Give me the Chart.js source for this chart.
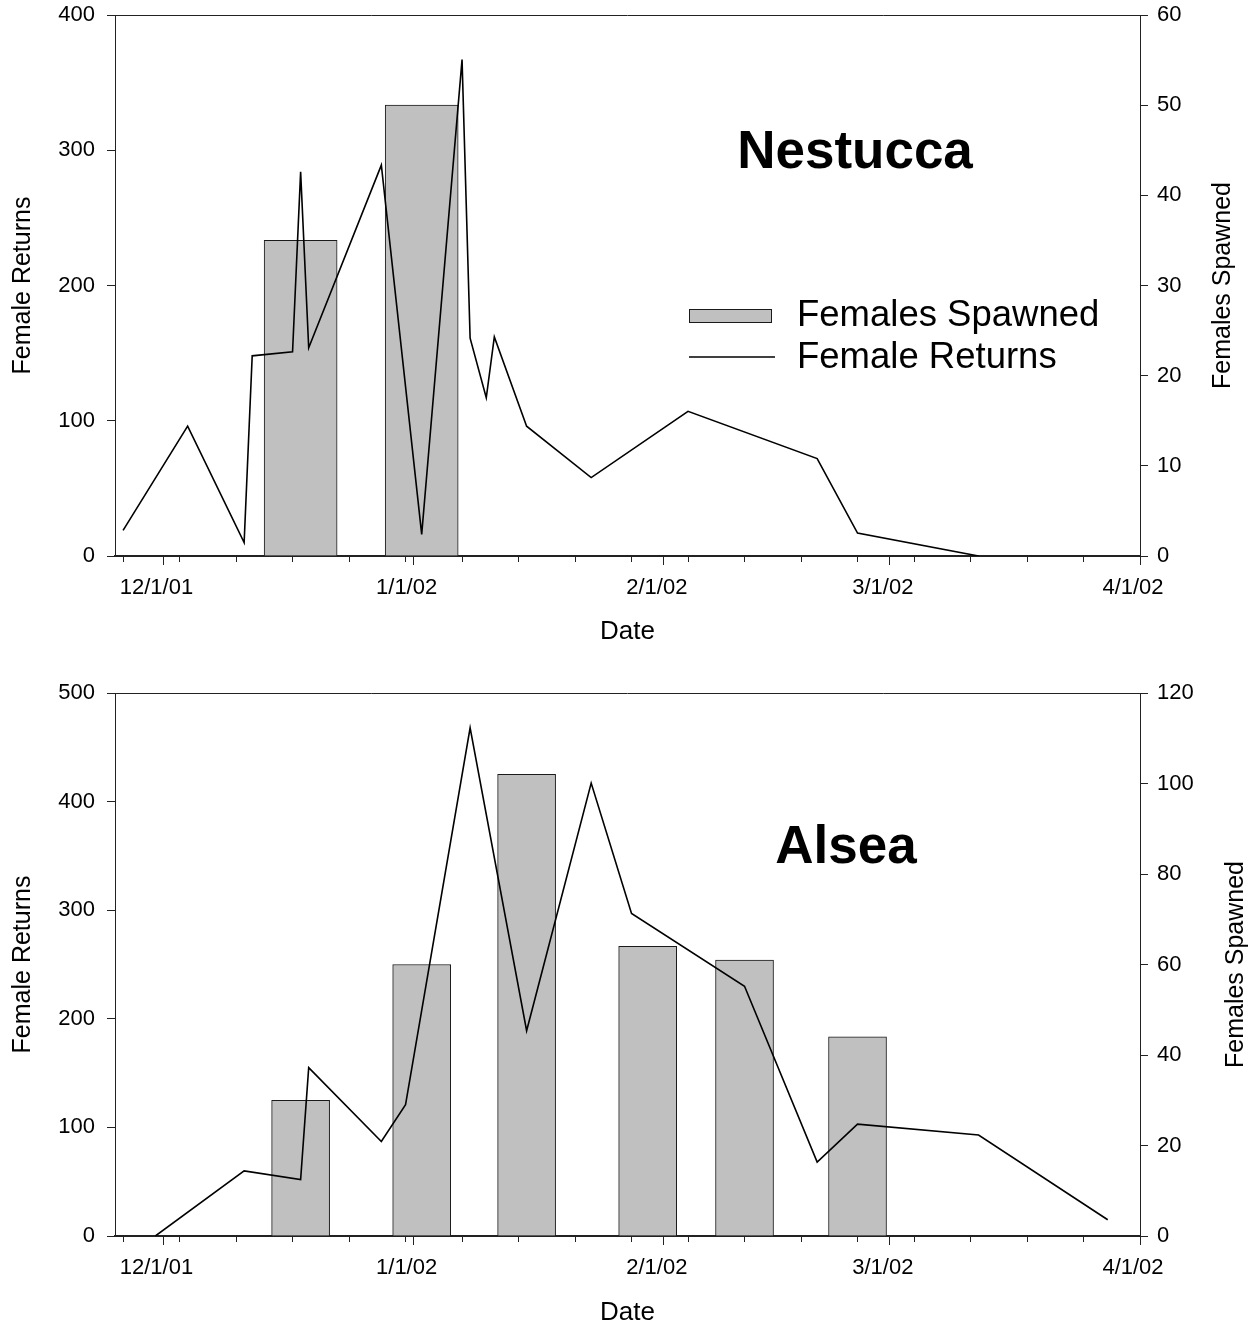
<!DOCTYPE html>
<html lang="en">
<head>
  <meta charset="UTF-8" />
  <title>Female Returns and Females Spawned - Nestucca and Alsea</title>
  <script src="https://cdn.jsdelivr.net/npm/chart.js"></script>
  <style>
    body { margin: 0; background: #fff; }
    canvas { display: block; }
  </style>
</head>
<body>
  <canvas id="nestuccaChart" width="1253" height="663"></canvas>
  <canvas id="alseaChart" width="1253" height="663"></canvas>

  <script>
    // x values are plotted as days counted from 12/1/01
    const startDate = '2001-12-01';
    const axisMinDate = '2001-11-25';
    const axisMaxDate = '2002-04-01';

    const monthTickDates = ['2001-12-01', '2002-01-01', '2002-02-01', '2002-03-01', '2002-04-01'];
    const monthTickLabels = ['12/1/01', '1/1/02', '2/1/02', '3/1/02', '4/1/02'];
    const weekTickDates = ['2001-11-26', '2001-12-03', '2001-12-10', '2001-12-17', '2001-12-24',
      '2001-12-31', '2002-01-07', '2002-01-14', '2002-01-21', '2002-01-28', '2002-02-04',
      '2002-02-11', '2002-02-18', '2002-02-25', '2002-03-04', '2002-03-11', '2002-03-18', '2002-03-25'];

    // Nestucca
    const nestuccaReturnDates = ['2001-11-26', '2001-12-04', '2001-12-11', '2001-12-12', '2001-12-17',
      '2001-12-18', '2001-12-19', '2001-12-28', '2002-01-02', '2002-01-07', '2002-01-08',
      '2002-01-10', '2002-01-11', '2002-01-15', '2002-01-23', '2002-02-04', '2002-02-20',
      '2002-02-25', '2002-03-12'];
    const nestuccaReturns = [19, 96, 10, 148, 151, 284, 154, 289, 16, 367, 161, 117, 162, 96, 58, 107, 72, 17, 0];
    const nestuccaSpawnDates = ['2001-12-18', '2002-01-02'];
    const nestuccaSpawned = [35, 50];
    const nestuccaLeftTicks = [0, 100, 200, 300, 400];
    const nestuccaRightTicks = [0, 10, 20, 30, 40, 50, 60];

    // Alsea
    const alseaReturnDates = ['2001-11-30', '2001-12-11', '2001-12-18', '2001-12-19', '2001-12-28',
      '2001-12-31', '2002-01-08', '2002-01-15', '2002-01-23', '2002-01-28', '2002-02-11',
      '2002-02-20', '2002-02-25', '2002-03-12', '2002-03-28'];
    const alseaReturns = [0, 60, 52, 155, 87, 121, 468, 189, 417, 297, 230, 68, 103, 93, 15];
    const alseaSpawnDates = ['2001-12-18', '2002-01-02', '2002-01-15', '2002-01-30', '2002-02-11', '2002-02-25'];
    const alseaSpawned = [30, 60, 102, 64, 61, 44];
    const alseaLeftTicks = [0, 100, 200, 300, 400, 500];
    const alseaRightTicks = [0, 20, 40, 60, 80, 100, 120];

    const FONT = "'Liberation Sans', Arial, Helvetica, sans-serif";
    const AXIS = '#222';
    Chart.defaults.font.family = FONT;
    Chart.defaults.color = '#000';

    function dayNum(s) {
      return (Date.parse(s) - Date.parse(startDate)) / 86400000;
    }

    function points(dates, values) {
      return values.map((v, i) => ({ x: dayNum(dates[i]), y: v }));
    }

    // y axes: fixed width, no extra room above/below for the end labels
    function fixY(width) {
      return s => {
        s.width = width;
        s.paddingTop = 0;
        s.paddingBottom = 0;
      };
    }

    // frame top, right axis title (reads upward), river name and legend
    const decorPlugin = {
      id: 'decor',
      afterDraw(chart, args, opts) {
        const { ctx, chartArea: a } = chart;
        ctx.save();
        ctx.strokeStyle = AXIS;
        ctx.lineWidth = 1;
        ctx.beginPath();
        ctx.moveTo(a.left, a.top + 0.5);
        ctx.lineTo(a.right, a.top + 0.5);
        ctx.stroke();

        ctx.fillStyle = '#000';
        ctx.textAlign = 'center';
        ctx.textBaseline = 'middle';
        ctx.font = 'bold 53px ' + FONT;
        ctx.fillText(opts.river, opts.riverX, opts.riverY);

        if (opts.legend) {
          const bars = chart.data.datasets[1];
          const line = chart.data.datasets[0];
          ctx.fillStyle = bars.backgroundColor;
          ctx.fillRect(689, 309, 83, 14);
          ctx.strokeStyle = bars.borderColor;
          ctx.strokeRect(689.5, 309.5, 82, 13);
          ctx.strokeStyle = line.borderColor;
          ctx.lineWidth = line.borderWidth;
          ctx.beginPath();
          ctx.moveTo(689, 357);
          ctx.lineTo(775, 357);
          ctx.stroke();
          ctx.fillStyle = '#000';
          ctx.textAlign = 'left';
          ctx.font = '36.5px ' + FONT;
          ctx.fillText(bars.label, 797, 316);
          ctx.fillText(line.label, 797, 358);
        }

        ctx.font = '25px ' + FONT;
        ctx.textAlign = 'center';
        ctx.translate(a.right + opts.rightTitleGap, (a.top + a.bottom) / 2);
        ctx.rotate(-Math.PI / 2);
        ctx.fillText(opts.rightTitle, 0, 0);
        ctx.restore();
      }
    };

    function drawChart(id, cfg) {
      const xMin = dayNum(axisMinDate);
      const xMax = dayNum(axisMaxDate);
      new Chart(document.getElementById(id), {
        type: 'line',
        data: {
          datasets: [{
            type: 'line',
            label: 'Female Returns',
            data: points(cfg.returnDates, cfg.returns),
            xAxisID: 'x',
            yAxisID: 'y',
            borderColor: '#000',
            borderWidth: 1.6,
            pointRadius: 0,
            tension: 0,
            fill: false,
            order: 0
          }, {
            type: 'bar',
            label: 'Females Spawned',
            data: points(cfg.spawnDates, cfg.spawned),
            xAxisID: 'x',
            yAxisID: 'y2',
            backgroundColor: '#c0c0c0',
            borderColor: '#1a1a1a',
            borderWidth: 1,
            barThickness: cfg.barThickness,
            order: 1
          }]
        },
        options: {
          responsive: false,
          animation: false,
          devicePixelRatio: 1,
          layout: { padding: { top: cfg.padTop, left: 0, right: 0, bottom: 0 } },
          plugins: {
            legend: { display: false },
            tooltip: { enabled: false },
            decor: {
              river: cfg.river,
              riverX: cfg.riverX,
              riverY: cfg.riverY,
              legend: cfg.legend,
              rightTitle: 'Females Spawned',
              rightTitleGap: cfg.rightTitleGap
            }
          },
          scales: {
            x: {
              type: 'linear',
              position: 'bottom',
              weight: 1,
              min: xMin,
              max: xMax,
              offset: false,
              afterBuildTicks: s => { s.ticks = monthTickDates.map(d => ({ value: dayNum(d) })); },
              afterFit: s => { s.height = cfg.xAxisHeight; },
              ticks: {
                autoSkip: false, maxRotation: 0, minRotation: 0,
                padding: 10, labelOffset: -7, font: { size: 22 },
                callback: (v, i) => monthTickLabels[i]
              },
              grid: { drawOnChartArea: false, tickLength: 9, color: AXIS, offset: false },
              border: { color: AXIS, width: 2 },
              title: {
                display: true, text: 'Date',
                font: { size: 26, lineHeight: 1 },
                padding: { top: 0, bottom: cfg.datePad }
              }
            },
            xw: {
              type: 'linear',
              position: 'bottom',
              weight: 0,
              min: xMin,
              max: xMax,
              offset: false,
              afterBuildTicks: s => { s.ticks = weekTickDates.map(d => ({ value: dayNum(d) })); },
              afterFit: s => { s.height = 0; },
              ticks: { display: false },
              grid: { drawOnChartArea: false, tickLength: 6, color: AXIS },
              border: { display: false }
            },
            y: {
              type: 'linear',
              position: 'left',
              min: 0,
              max: cfg.leftTicks[cfg.leftTicks.length - 1],
              afterBuildTicks: s => { s.ticks = cfg.leftTicks.map(v => ({ value: v })); },
              afterFit: fixY(115),
              ticks: { padding: 12, font: { size: 22 } },
              grid: { drawOnChartArea: false, tickLength: 8, color: AXIS },
              border: { color: AXIS, width: 1 },
              title: {
                display: true, text: 'Female Returns',
                font: { size: 25 },
                padding: { top: 8, bottom: 0 }
              }
            },
            y2: {
              type: 'linear',
              position: 'right',
              min: 0,
              max: cfg.rightTicks[cfg.rightTicks.length - 1],
              afterBuildTicks: s => { s.ticks = cfg.rightTicks.map(v => ({ value: v })); },
              afterFit: fixY(113),
              ticks: { padding: 9, font: { size: 22 } },
              grid: { drawOnChartArea: false, tickLength: 8, color: AXIS },
              border: { color: AXIS, width: 1 }
            }
          }
        },
        plugins: [decorPlugin]
      });
    }

    drawChart('nestuccaChart', {
      returnDates: nestuccaReturnDates,
      returns: nestuccaReturns,
      spawnDates: nestuccaSpawnDates,
      spawned: nestuccaSpawned,
      leftTicks: nestuccaLeftTicks,
      rightTicks: nestuccaRightTicks,
      barThickness: 73,
      padTop: 15,
      xAxisHeight: 107,
      datePad: 18,
      river: 'Nestucca',
      riverX: 855,
      riverY: 153,
      legend: true,
      rightTitleGap: 83
    });

    drawChart('alseaChart', {
      returnDates: alseaReturnDates,
      returns: alseaReturns,
      spawnDates: alseaSpawnDates,
      spawned: alseaSpawned,
      leftTicks: alseaLeftTicks,
      rightTicks: alseaRightTicks,
      barThickness: 58,
      padTop: 30,
      xAxisHeight: 90,
      datePad: 0,
      river: 'Alsea',
      riverX: 846,
      riverY: 185,
      legend: false,
      rightTitleGap: 96
    });
  </script>
</body>
</html>
